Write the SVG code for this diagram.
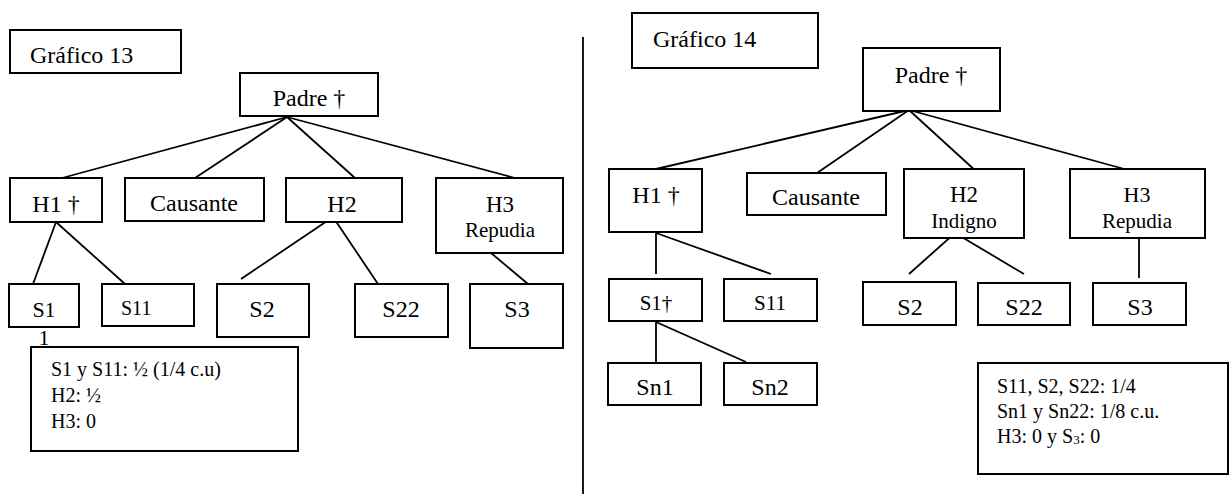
<svg xmlns="http://www.w3.org/2000/svg" width="1230" height="494" viewBox="0 0 1230 494">
<style>
.b{fill:#fff;stroke:#000;stroke-width:2}
.t{font-family:"Liberation Serif","Times New Roman",serif;fill:#000;text-anchor:middle}
.l{font-family:"Liberation Serif","Times New Roman",serif;fill:#000}
.c{stroke:#000;stroke-width:1.8;fill:none}
</style>
<rect width="1230" height="494" fill="#fff"/>
<g id="connectors">
<line class="c" x1="583" y1="37" x2="583" y2="494"/>
<line class="c" x1="287" y1="117" x2="62" y2="178"/>
<line class="c" x1="287" y1="117" x2="195" y2="178"/>
<line class="c" x1="287" y1="117" x2="355" y2="178"/>
<line class="c" x1="287" y1="117" x2="515" y2="178"/>
<line class="c" x1="56" y1="222" x2="33" y2="284"/>
<line class="c" x1="56" y1="222" x2="125" y2="284"/>
<line class="c" x1="333" y1="217" x2="241" y2="279"/>
<line class="c" x1="333" y1="217" x2="378" y2="284"/>
<line class="c" x1="491" y1="253" x2="528" y2="284"/>
<line class="c" x1="909" y1="110" x2="656" y2="169"/>
<line class="c" x1="909" y1="110" x2="817" y2="173"/>
<line class="c" x1="909" y1="110" x2="978" y2="173"/>
<line class="c" x1="909" y1="110" x2="1139" y2="173"/>
<line class="c" x1="656" y1="233" x2="656" y2="274"/>
<line class="c" x1="656" y1="233" x2="771" y2="274"/>
<line class="c" x1="955" y1="233" x2="909" y2="274"/>
<line class="c" x1="955" y1="233" x2="1024" y2="274"/>
<line class="c" x1="1139" y1="237" x2="1139" y2="278"/>
<line class="c" x1="656" y1="322" x2="656" y2="362"/>
<line class="c" x1="656" y1="322" x2="746" y2="362"/>
</g>
<g id="grafico13"><rect class="b" x="10" y="30" width="171" height="43"/><text class="l" x="30" y="63" font-size="24">Gráfico 13</text></g>
<g id="padre13"><rect class="b" x="240" y="73" width="138" height="43"/><text class="t" x="309" y="106" font-size="24">Padre †</text></g>
<g id="h1_13"><rect class="b" x="10" y="178" width="92" height="44"/><text class="t" x="56" y="212" font-size="24">H1 †</text></g>
<g id="causante13"><rect class="b" x="125" y="178" width="139" height="43"/><text class="t" x="194" y="211" font-size="24">Causante</text></g>
<g id="h2_13"><rect class="b" x="286" y="178" width="116" height="44"/><text class="t" x="342" y="212" font-size="24">H2</text></g>
<g id="h3_13"><rect class="b" x="436" y="178" width="127" height="75"/><text class="t" x="500" y="212" font-size="23">H3</text><text class="t" x="500" y="237" font-size="21">Repudia</text></g>
<g id="s1_13"><rect class="b" x="9" y="284" width="70" height="43"/><text class="t" x="44" y="317" font-size="22">S1</text><text class="t" x="44" y="345" font-size="22">1</text></g>
<g id="s11_13"><rect class="b" x="102" y="284" width="92" height="42"/><text class="l" x="121" y="315" font-size="20">S11</text></g>
<g id="s2_13"><rect class="b" x="217" y="284" width="92" height="53"/><text class="t" x="262" y="317" font-size="24">S2</text></g>
<g id="s22_13"><rect class="b" x="355" y="284" width="93" height="53"/><text class="t" x="401" y="317" font-size="24">S22</text></g>
<g id="s3_13"><rect class="b" x="470" y="284" width="93" height="64"/><text class="t" x="517" y="317" font-size="24">S3</text></g>
<g id="nota13"><rect class="b" x="31" y="347" width="267" height="104"/>
<text class="l" x="51" y="376" font-size="20">S1 y S11: ½ (1/4 c.u)</text>
<text class="l" x="51" y="402" font-size="20">H2: ½</text>
<text class="l" x="51" y="428" font-size="20">H3: 0</text></g>
<g id="grafico14"><rect class="b" x="632" y="13" width="186" height="55"/><text class="l" x="653" y="47" font-size="24">Gráfico 14</text></g>
<g id="padre14"><rect class="b" x="863" y="48" width="137" height="63"/><text class="t" x="931" y="83" font-size="24">Padre †</text></g>
<g id="h1_14"><rect class="b" x="609" y="169" width="93" height="63"/><text class="t" x="656" y="203" font-size="24">H1 †</text></g>
<g id="causante14"><rect class="b" x="747" y="173" width="139" height="42"/><text class="t" x="816" y="205" font-size="24">Causante</text></g>
<g id="h2_14"><rect class="b" x="904" y="169" width="120" height="69"/><text class="t" x="964" y="202" font-size="23">H2</text><text class="t" x="964" y="228" font-size="21">Indigno</text></g>
<g id="h3_14"><rect class="b" x="1070" y="169" width="135" height="69"/><text class="t" x="1137" y="202" font-size="22">H3</text><text class="t" x="1137" y="228" font-size="21">Repudia</text></g>
<g id="s1_14"><rect class="b" x="609" y="279" width="93" height="42"/><text class="t" x="656" y="310" font-size="21">S1†</text></g>
<g id="s11_14"><rect class="b" x="724" y="279" width="93" height="42"/><text class="t" x="770" y="310" font-size="21">S11</text></g>
<g id="s2_14"><rect class="b" x="863" y="282" width="93" height="43"/><text class="t" x="910" y="315" font-size="24">S2</text></g>
<g id="s22_14"><rect class="b" x="978" y="283" width="92" height="42"/><text class="t" x="1024" y="315" font-size="24">S22</text></g>
<g id="s3_14"><rect class="b" x="1093" y="283" width="93" height="42"/><text class="t" x="1140" y="315" font-size="24">S3</text></g>
<g id="sn1_14"><rect class="b" x="608" y="363" width="93" height="42"/><text class="t" x="655" y="395" font-size="24">Sn1</text></g>
<g id="sn2_14"><rect class="b" x="724" y="363" width="93" height="42"/><text class="t" x="770" y="395" font-size="24">Sn2</text></g>
<g id="nota14"><rect class="b" x="978" y="363" width="250" height="111"/>
<text class="l" x="997" y="393" font-size="20">S11, S2, S22: 1/4</text>
<text class="l" x="997" y="418" font-size="20">Sn1 y Sn22: 1/8 c.u.</text>
<text class="l" x="997" y="443" font-size="20">H3: 0 y S<tspan font-size="13" dy="1">3</tspan><tspan dy="-1">: 0</tspan></text></g>
</svg>
